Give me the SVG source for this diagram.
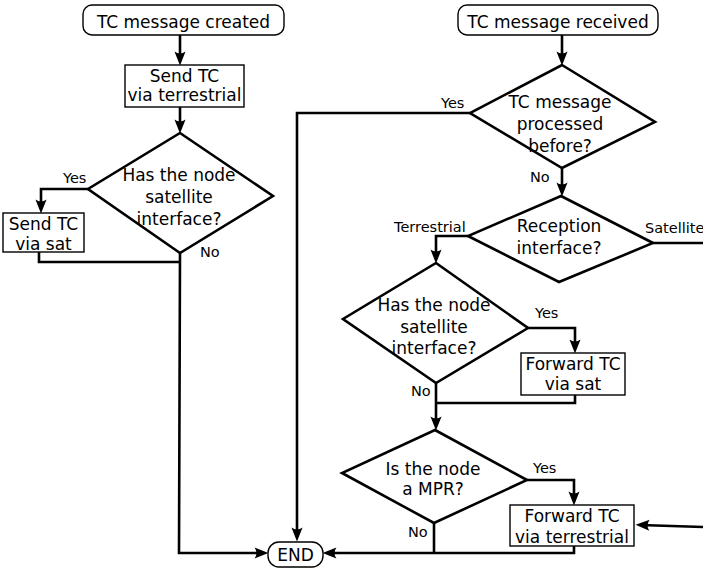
<svg xmlns="http://www.w3.org/2000/svg" width="703" height="568" viewBox="0 0 703 568">
<style>
  text { font-family: "DejaVu Sans", "Liberation Sans", sans-serif; fill: #000; }
  .t { font-size: 17px; text-anchor: middle; }
  .l { font-size: 14.5px; }
  .box { fill: #fff; stroke: #000; stroke-width: 1.4; }
  .term { fill: #fff; stroke: #000; stroke-width: 1.4; }
  .dia { fill: #fff; stroke: #000; stroke-width: 2.6; stroke-linejoin: miter; }
  .c { fill: none; stroke: #000; stroke-width: 2.6; }
  .a { marker-end: url(#arr); }
</style>
<defs>
  <marker id="arr" markerUnits="userSpaceOnUse" markerWidth="20" markerHeight="16" viewBox="-12 -7 18 14" refX="0" refY="0" orient="auto">
    <path d="M4,0 L-8.5,-5 Q-5,0 -8.5,5 Z" fill="#000"/>
  </marker>
</defs>

<g id="connectors">
  <path class="c a" d="M180,35 V61"/>
  <path class="c a" d="M180,107 V129"/>
  <path class="c a" d="M88,189 H41 V209"/>
  <path class="c" d="M39,252 V262 H180"/>
  <path class="c a" d="M180,253 L179,553 H264"/>
  <path class="c a" d="M562,35 V61"/>
  <path class="c a" d="M470,113 H297 V537"/>
  <path class="c a" d="M562,168 V192"/>
  <path class="c a" d="M468,236 H436 V259"/>
  <path class="c" d="M653,243 H703"/>
  <path class="c a" d="M528,328 H575 V349"/>
  <path class="c" d="M575,395 V403 H436"/>
  <path class="c a" d="M436,383 V426"/>
  <path class="c a" d="M527,480 H574 V501"/>
  <path class="c a" d="M703,527 L640,525"/>
  <path class="c" d="M434,523 V553"/>
  <path class="c a" d="M574,546 V553 H327"/>
</g>

<g id="start-created">
  <rect class="term" x="83" y="5" width="201" height="30" rx="9"/>
  <text class="t" x="183.5" y="28">TC message created</text>
</g>
<g id="send-terrestrial">
  <rect class="box" x="125" y="65" width="119" height="42"/>
  <text class="t" x="184.5" y="82">Send TC</text>
  <text class="t" x="184.5" y="101">via terrestrial</text>
</g>
<g id="has-sat-1">
  <polygon class="dia" points="180,133 273,196 180,253 88,189"/>
  <text class="t" x="179" y="181">Has the node</text>
  <text class="t" x="179" y="203">satellite</text>
  <text class="t" x="179" y="225">interface?</text>
</g>
<g id="send-sat">
  <rect class="box" x="3" y="213" width="81" height="39"/>
  <text class="t" x="43.5" y="230">Send TC</text>
  <text class="t" x="43.5" y="250">via sat</text>
</g>

<g id="start-received">
  <rect class="term" x="458" y="5" width="200" height="30" rx="9"/>
  <text class="t" x="558" y="28">TC message received</text>
</g>
<g id="processed-before">
  <polygon class="dia" points="562,65 655,122 562,168 470,113"/>
  <text class="t" x="560" y="108">TC message</text>
  <text class="t" x="560" y="130">processed</text>
  <text class="t" x="560" y="152">before?</text>
</g>
<g id="reception-interface">
  <polygon class="dia" points="561,196 653,243 559,282 468,236"/>
  <text class="t" x="559" y="232">Reception</text>
  <text class="t" x="559" y="254">interface?</text>
</g>
<g id="has-sat-2">
  <polygon class="dia" points="436,263 528,328 436,383 343,319"/>
  <text class="t" x="434" y="311">Has the node</text>
  <text class="t" x="434" y="333">satellite</text>
  <text class="t" x="434" y="354">interface?</text>
</g>
<g id="forward-sat">
  <rect class="box" x="521" y="353" width="104" height="42"/>
  <text class="t" x="573" y="370">Forward TC</text>
  <text class="t" x="573" y="390">via sat</text>
</g>
<g id="is-mpr">
  <polygon class="dia" points="435,430 527,480 434,523 342,473"/>
  <text class="t" x="433" y="475">Is the node</text>
  <text class="t" x="433" y="495">a MPR?</text>
</g>
<g id="forward-terrestrial">
  <rect class="box" x="510" y="505" width="124" height="41"/>
  <text class="t" x="572" y="522">Forward TC</text>
  <text class="t" x="572" y="543">via terrestrial</text>
</g>
<g id="end">
  <rect class="term" x="268" y="542" width="55" height="25" rx="11"/>
  <text class="t" x="295.5" y="561">END</text>
</g>

<g id="labels">
  <text class="l" x="63" y="183">Yes</text>
  <text class="l" x="200" y="257">No</text>
  <text class="l" x="441" y="108">Yes</text>
  <text class="l" x="530" y="182">No</text>
  <text class="l" x="394" y="232">Terrestrial</text>
  <text class="l" x="645" y="233">Satellite</text>
  <text class="l" x="535" y="318">Yes</text>
  <text class="l" x="411" y="396">No</text>
  <text class="l" x="533" y="473">Yes</text>
  <text class="l" x="408" y="537">No</text>
</g>
</svg>
